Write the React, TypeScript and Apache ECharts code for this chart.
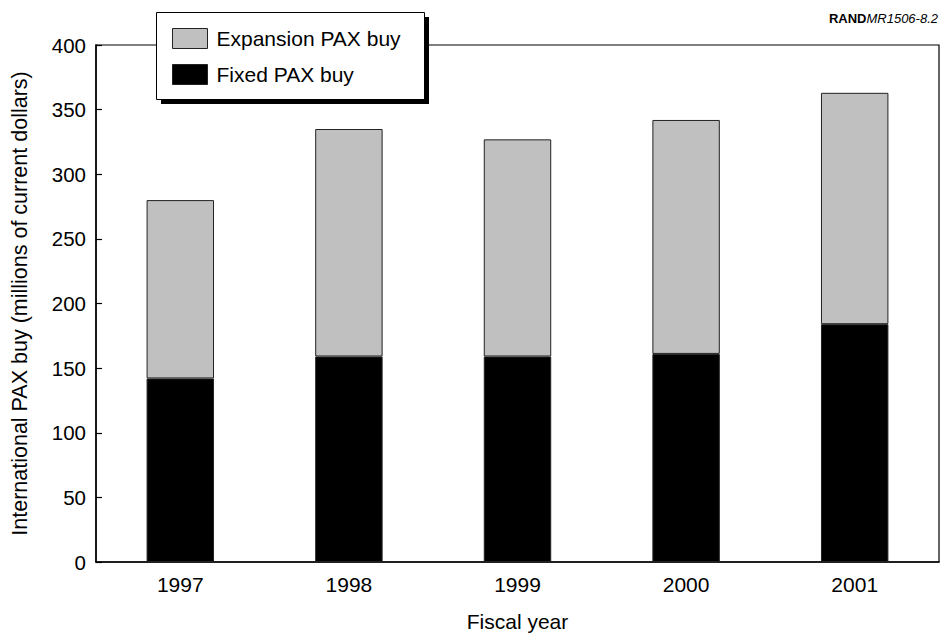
import React, { useEffect, useRef } from "react";
import * as echarts from "echarts";

const years = ["1997", "1998", "1999", "2000", "2001"];
const fixedBuy = [142, 159, 159, 161, 184];
const expansionBuy = [138, 176, 168, 181, 179];
const yTicks = { min: 0, max: 400, interval: 50 };

const FONT = "'Liberation Sans', Arial, Helvetica, sans-serif";

export default function App() {
  const ref = useRef<HTMLDivElement>(null);
  useEffect(() => {
    if (!ref.current) return;
    const chart = echarts.init(ref.current, undefined, { renderer: "svg" });
    chart.setOption({
      animation: false,
      backgroundColor: "#ffffff",
      textStyle: { fontFamily: FONT },
      grid: {
        left: 96,
        right: 1,
        top: 45,
        bottom: 72,
        show: true,
        borderColor: "#000",
        borderWidth: 1.2,
        backgroundColor: "transparent",
      },
      legend: {
        left: 156,
        top: 12,
        orient: "vertical",
        data: ["Expansion PAX buy", "Fixed PAX buy"],
        icon: "rect",
        itemWidth: 35,
        itemHeight: 20,
        itemGap: 15,
        padding: [16, 16, 15, 16],
        textStyle: {
          fontSize: 21,
          lineHeight: 20,
          color: "#000",
          fontFamily: FONT,
          padding: [0, 0, 0, 4],
        },
        itemStyle: { borderColor: "#222", borderWidth: 1 },
        selectedMode: false,
        z: 10,
      },
      graphic: [
        {
          type: "rect",
          left: 161,
          top: 17,
          shape: { width: 268, height: 87 },
          style: { fill: "#000" },
          z: 5,
        },
        {
          type: "rect",
          left: 156,
          top: 12,
          shape: { width: 268, height: 87 },
          style: { fill: "#fff", stroke: "#000", lineWidth: 1 },
          z: 6,
        },
        {
          type: "text",
          right: 2,
          top: 12,
          style: {
            rich: {
              b: { fontWeight: "bold", fontSize: 13, fontFamily: FONT, fill: "#000" },
              i: { fontStyle: "italic", fontSize: 13, fontFamily: FONT, fill: "#000" },
            },
            text: "{b|RAND}{i|MR1506-8.2}",
          },
        },
      ],
      xAxis: {
        type: "category",
        data: years,
        axisLine: { show: true, lineStyle: { color: "#000", width: 1.5 } },
        axisTick: { show: false },
        axisLabel: { fontSize: 21, color: "#000", margin: 12, fontFamily: FONT },
        name: "Fiscal year",
        nameLocation: "middle",
        nameGap: 49,
        nameTextStyle: { fontSize: 21, color: "#000", fontFamily: FONT },
      },
      yAxis: {
        type: "value",
        min: yTicks.min,
        max: yTicks.max,
        interval: yTicks.interval,
        splitLine: { show: false },
        axisLine: { show: true, lineStyle: { color: "#000", width: 1.5 } },
        axisTick: { show: true, inside: true, length: 6, lineStyle: { color: "#000", width: 1.2 } },
        axisLabel: { fontSize: 20.5, color: "#000", margin: 10, fontFamily: FONT },
        name: "International PAX buy (millions of current dollars)",
        nameLocation: "middle",
        nameGap: 65,
        nameTextStyle: { fontSize: 21.5, color: "#000", fontFamily: FONT },
      },
      series: [
        {
          name: "Fixed PAX buy",
          type: "bar",
          stack: "total",
          data: fixedBuy,
          barWidth: "40%",
          itemStyle: { color: "#000", borderColor: "#222", borderWidth: 1 },
        },
        {
          name: "Expansion PAX buy",
          type: "bar",
          stack: "total",
          data: expansionBuy,
          barWidth: "40%",
          itemStyle: { color: "#c0c0c0", borderColor: "#222", borderWidth: 1 },
        },
      ],
    });
    return () => chart.dispose();
  }, []);
  return (
    <div
      ref={ref}
      style={{ position: "fixed", left: 0, top: 0, width: 940, height: 637 }}
    />
  );
}
